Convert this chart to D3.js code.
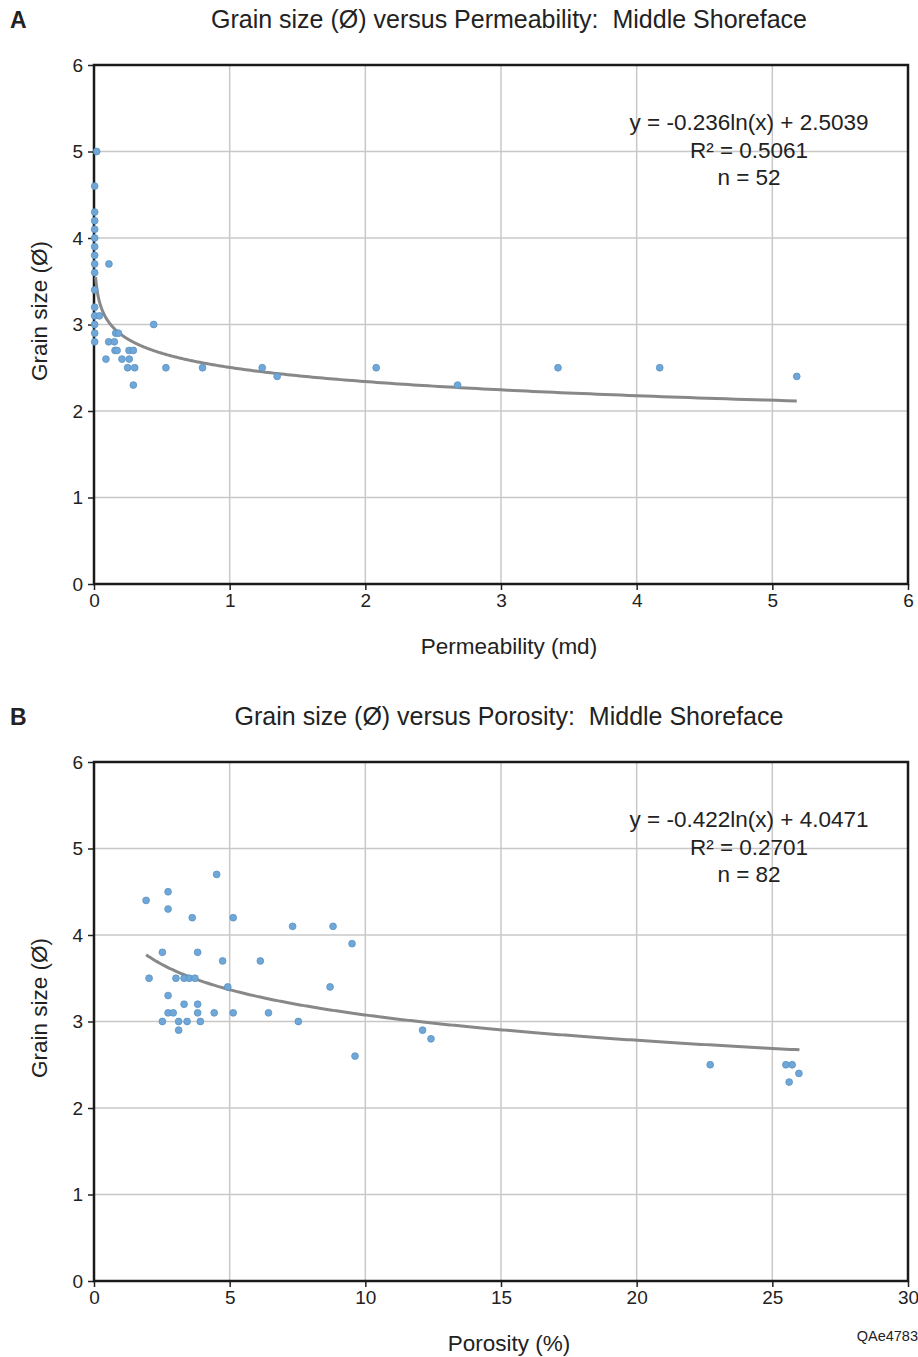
<!DOCTYPE html>
<html>
<head>
<meta charset="utf-8">
<script src="https://cdn.jsdelivr.net/npm/d3@7"></script>
<style>
  body { margin: 0; background: #fff; }
  svg { display: block; font-family: "Liberation Sans", Arial, sans-serif; }
  text { white-space: pre; }
</style>
</head>
<body>
<div id="container"></div>
<script>
"use strict";

// panel A: permeability (md) vs grain size
const permX = [0.02, 0.005, 0.005, 0.005, 0.005, 0.005, 0.005, 0.005, 0.005, 0.005, 0.005, 0.005, 0.005, 0.005, 0.005, 0.005,
	0.11, 0.04, 0.44, 0.16, 0.18, 0.108, 0.15, 0.155, 0.17, 0.258, 0.29, 0.088, 0.206, 0.26,
	0.248, 0.30, 0.53, 0.80, 1.24, 1.35, 0.29, 2.08, 2.68, 3.42, 4.17, 5.18];
const permY = [5.0, 4.6, 4.3, 4.2, 4.1, 4.0, 3.9, 3.8, 3.7, 3.6, 3.4, 3.2, 3.1, 3.0, 2.9, 2.8,
	3.7, 3.1, 3.0, 2.9, 2.9, 2.8, 2.8, 2.7, 2.7, 2.7, 2.7, 2.6, 2.6, 2.6,
	2.5, 2.5, 2.5, 2.5, 2.5, 2.4, 2.3, 2.5, 2.3, 2.5, 2.5, 2.4];

// panel B: porosity (%) vs grain size
const porX = [4.52, 1.92, 2.73, 2.73, 3.62, 5.13, 7.32, 8.81, 9.51, 2.52, 3.82, 4.74, 6.13,
	2.03, 3.02, 3.32, 3.51, 3.72, 4.93, 8.7, 2.73, 3.32, 3.82,
	2.73, 2.92, 3.82, 4.43, 5.13, 6.43, 2.52, 3.12, 3.43, 3.92, 7.53, 3.12,
	9.62, 12.11, 12.42, 22.71, 25.5, 25.73, 25.62, 25.98];
const porY = [4.7, 4.4, 4.5, 4.3, 4.2, 4.2, 4.1, 4.1, 3.9, 3.8, 3.8, 3.7, 3.7,
	3.5, 3.5, 3.5, 3.5, 3.5, 3.4, 3.4, 3.3, 3.2, 3.2,
	3.1, 3.1, 3.1, 3.1, 3.1, 3.1, 3.0, 3.0, 3.0, 3.0, 3.0, 2.9,
	2.6, 2.9, 2.8, 2.5, 2.5, 2.5, 2.3, 2.4];

// log trend lines: y = a ln(x) + b
const fitA = { a: -0.236, b: 2.5039, from: 0.012, to: 5.18 };
const fitB = { a: -0.422, b: 4.0471, from: 1.92, to: 26.0 };

const ticksA = [0, 1, 2, 3, 4, 5, 6];
const ticksB = [0, 5, 10, 15, 20, 25, 30];
const ticksY = [0, 1, 2, 3, 4, 5, 6];

const W = 918, H = 1357;
const svg = d3.select("#container").append("svg")
	.attr("width", W).attr("height", H);

function panel(opt) {
	const g = svg.append("g");
	const x = d3.scaleLinear().domain(opt.xDomain).range([94, 908]);
	const y = d3.scaleLinear().domain([0, 6]).range([opt.bottom, opt.bottom - 519]);

	// grid
	g.append("g")
		.selectAll("line")
		.data(opt.xTicks.slice(1, -1))
		.join("line")
		.attr("x1", (d) => x(d)).attr("x2", (d) => x(d))
		.attr("y1", y(0)).attr("y2", y(6))
		.attr("stroke", "#c8c8c8").attr("stroke-width", 1.5);
	g.append("g")
		.selectAll("line")
		.data(ticksY.slice(1, -1))
		.join("line")
		.attr("x1", x.range()[0]).attr("x2", x.range()[1])
		.attr("y1", (d) => y(d)).attr("y2", (d) => y(d))
		.attr("stroke", "#c8c8c8").attr("stroke-width", 1.5);

	// axes (ticks + labels)
	const ax = g.append("g")
		.attr("transform", `translate(0,${y(0)})`)
		.call(d3.axisBottom(x).tickValues(opt.xTicks).tickSize(6).tickPadding(4).tickFormat(d3.format("d")));
	const ay = g.append("g")
		.attr("transform", `translate(${x(opt.xDomain[0])},0)`)
		.call(d3.axisLeft(y).tickValues(ticksY).tickSize(6).tickPadding(5).tickFormat(d3.format("d")));
	[ax, ay].forEach((a) => {
		a.select(".domain").remove();
		a.selectAll("line").attr("stroke", "#222").attr("stroke-width", 1.5);
		a.selectAll("text").attr("font-size", 19).attr("fill", "#222")
			.attr("font-family", "'Liberation Sans', Arial, sans-serif");
	});

	// frame
	g.append("rect")
		.attr("x", x.range()[0]).attr("y", y(6))
		.attr("width", x.range()[1] - x.range()[0])
		.attr("height", y(0) - y(6))
		.attr("fill", "none").attr("stroke", "#1a1a1a").attr("stroke-width", 2.5);

	// trend line
	const f = opt.fit;
	const xs = d3.range(0, 401).map((i) => f.from * Math.pow(f.to / f.from, i / 400));
	g.append("path")
		.datum(xs)
		.attr("d", d3.line().x((d) => x(d)).y((d) => y(f.a * Math.log(d) + f.b)))
		.attr("fill", "none").attr("stroke", "#888").attr("stroke-width", 3);

	// points
	g.append("g")
		.selectAll("circle")
		.data(opt.xs.map((d, i) => [d, opt.ys[i]]))
		.join("circle")
		.attr("cx", (d) => x(d[0])).attr("cy", (d) => y(d[1]))
		.attr("r", 3.4)
		.attr("fill", "#6fa8d8").attr("stroke", "#5a92c2").attr("stroke-width", 0.8);

	// titles
	g.append("text").attr("x", 10).attr("y", opt.bottom - 556)
		.attr("font-size", 23).attr("font-weight", "bold").attr("fill", "#222").text(opt.label);
	g.append("text").attr("x", 509).attr("y", opt.bottom - 556)
		.attr("text-anchor", "middle").attr("font-size", 25).attr("fill", "#222").text(opt.title);
	g.append("text").attr("x", 509).attr("y", opt.bottom + 70)
		.attr("text-anchor", "middle").attr("font-size", 22.5).attr("fill", "#222").text(opt.xTitle);
	g.append("text")
		.attr("transform", `translate(47,${opt.bottom - 273}) rotate(-90)`)
		.attr("text-anchor", "middle").attr("font-size", 22.5).attr("fill", "#222").text("Grain size (Ø)");

	// equation block
	const eq = g.append("text").attr("text-anchor", "middle").attr("font-size", 22.5).attr("fill", "#222");
	opt.eq.forEach((t, i) => {
		eq.append("tspan").attr("x", 749).attr("y", opt.bottom - 454 + i * 27.5).text(t);
	});
}

panel({
	label: "A",
	title: "Grain size (Ø) versus Permeability:  Middle Shoreface",
	xTitle: "Permeability (md)",
	bottom: 584,
	xDomain: [0, 6],
	xTicks: ticksA,
	xs: permX, ys: permY,
	fit: fitA,
	eq: ["y = -0.236ln(x) + 2.5039", "R² = 0.5061", "n = 52"],
});

panel({
	label: "B",
	title: "Grain size (Ø) versus Porosity:  Middle Shoreface",
	xTitle: "Porosity (%)",
	bottom: 1281,
	xDomain: [0, 30],
	xTicks: ticksB,
	xs: porX, ys: porY,
	fit: fitB,
	eq: ["y = -0.422ln(x) + 4.0471", "R² = 0.2701", "n = 82"],
});

svg.append("text").attr("x", 918).attr("y", 1341)
	.attr("text-anchor", "end").attr("font-size", 14.5).attr("fill", "#222").text("QAe4783");
</script>
</body>
</html>
